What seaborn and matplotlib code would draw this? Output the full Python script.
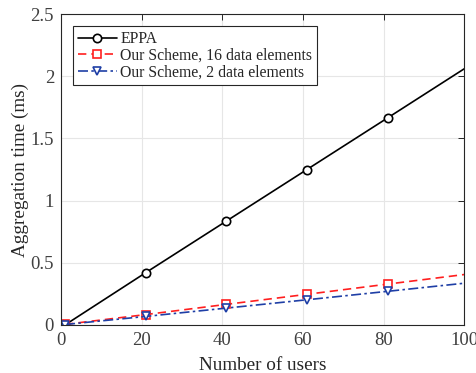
import numpy as np
import pandas as pd
import matplotlib
matplotlib.use("Agg")
import matplotlib.pyplot as plt
import seaborn as sns

# data
users = [1, 21, 41, 61, 81, 100]
eppa = [0.0, 0.42, 0.835, 1.25, 1.665, 2.06]
ours_16 = [0.004, 0.083, 0.165, 0.246, 0.328, 0.405]
ours_2 = [0.003, 0.068, 0.135, 0.202, 0.270, 0.335]
labels = ["EPPA", "Our Scheme, 16 data elements", "Our Scheme, 2 data elements"]

sns.set_style("whitegrid")
plt.rcParams['font.family'] = ['Liberation Serif', 'DejaVu Serif']

fig = plt.figure(figsize=(4.77, 3.73), dpi=100)
ax = fig.add_axes([0.128, 0.129, 0.845, 0.833])

axc = '#262626'
styles = [
    (eppa, 'black', '-', 'o'),
    (ours_16, '#ff1f1f', (0, (5, 3)), 's'),
    (ours_2, '#1f3fa6', (0, (6, 2, 1.5, 2)), 'v'),
]
for (vals, col, ls, mk), lab in zip(styles, labels):
    sns.lineplot(x=users, y=vals, ax=ax, color=col, linestyle=ls, marker=mk,
                 markersize=6, markerfacecolor='white', markeredgecolor=col,
                 markeredgewidth=1.2, linewidth=1.2, label=lab,
                 markevery=[0, 1, 2, 3, 4])

ax.set_xlim(0, 100)
ax.set_ylim(0, 2.5)
ax.set_xticks([0, 20, 40, 60, 80, 100])
ax.set_yticks([0, 0.5, 1, 1.5, 2, 2.5])
ax.set_yticklabels(['0', '0.5', '1', '1.5', '2', '2.5'])
ax.set_xlabel('Number of users', fontsize=13.8, color=axc, labelpad=6)
ax.set_ylabel('Aggregation time (ms)', fontsize=13.8, color=axc, labelpad=1)
ax.tick_params(direction='in', length=4, width=0.7, colors=axc, labelsize=13.5,
               top=True, right=True, pad=5)
ax.tick_params(labelcolor='#404040')
ax.grid(True, color='#e6e6e6', linewidth=0.8)
for s in ax.spines.values():
    s.set_color(axc)
    s.set_linewidth(0.8)
    s.set_visible(True)

leg = ax.legend(loc='upper left', bbox_to_anchor=(0.03, 0.961), fontsize=11.3,
                frameon=True, fancybox=False, edgecolor=axc, framealpha=1,
                handlelength=2.5, handletextpad=0.2, borderpad=0.3,
                labelspacing=0.05, borderaxespad=0)
leg.get_frame().set_linewidth(0.8)

fig.savefig('out.png', dpi=100)
